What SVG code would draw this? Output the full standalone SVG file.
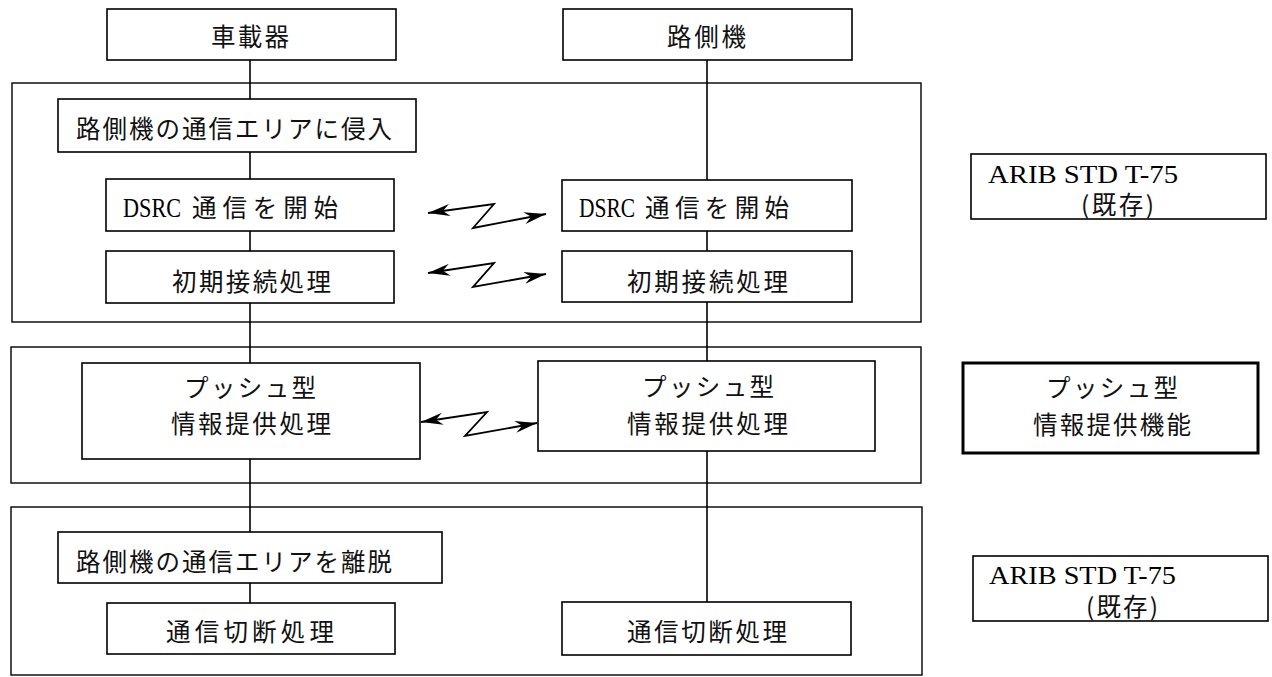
<svg xmlns="http://www.w3.org/2000/svg" width="1272" height="677" viewBox="0 0 1272 677">
<style>
.box{fill:#fff;stroke:#000;stroke-width:1.6}
.outer{fill:none;stroke:#000;stroke-width:1.4}
.thick{fill:#fff;stroke:#000;stroke-width:3}
.jp{font-family:"Noto Sans CJK JP","Noto Sans",sans-serif;font-size:24.5px;fill:#111}
.en{font-family:"Liberation Serif","Noto Sans CJK JP",serif;font-size:26px;fill:#000}
.ds{font-size:28px}
.ln{stroke:#000;stroke-width:1.6;fill:none}
.zz{stroke:#000;stroke-width:1.8;fill:none;marker-start:url(#ah);marker-end:url(#ah)}
</style>
<defs>
<marker id="ah" markerUnits="userSpaceOnUse" markerWidth="30" markerHeight="20" viewBox="-24 -10 30 20" refX="0" refY="0" orient="auto-start-reverse">
<path d="M0,0 L-22,-6 L-15,0 L-22,6 Z" fill="#000"/>
</marker>
</defs>
<rect width="1272" height="677" fill="#fff"/>

<g id="group-outer">
<rect class="outer" x="12" y="83" width="909" height="239"/>
<rect class="outer" x="11" y="347" width="910" height="136"/>
<rect class="outer" x="11" y="507" width="911" height="168"/>
</g>

<g id="connectors">
<line class="ln" x1="250" y1="60" x2="250" y2="99"/>
<line class="ln" x1="250" y1="152" x2="250" y2="179"/>
<line class="ln" x1="250" y1="231" x2="250" y2="251"/>
<line class="ln" x1="250" y1="303" x2="250" y2="363"/>
<line class="ln" x1="250" y1="459" x2="250" y2="532"/>
<line class="ln" x1="250" y1="583" x2="250" y2="603"/>
<line class="ln" x1="707" y1="60" x2="707" y2="180"/>
<line class="ln" x1="707" y1="231" x2="707" y2="251"/>
<line class="ln" x1="707" y1="302" x2="707" y2="361"/>
<line class="ln" x1="707" y1="451" x2="707" y2="602"/>
<polyline class="zz" points="428,213 494,204 473,228 546,214"/>
<polyline class="zz" points="428,273 494,263 473,287 546,274"/>
<polyline class="zz" points="421,422 487,412 465,436 537,423"/>
</g>

<g id="n-vehicle">
<rect class="box" x="107" y="9" width="289" height="51"/>
<text class="jp" x="211" y="46" textLength="78" lengthAdjust="spacing">車載器</text>
</g>
<g id="n-roadside">
<rect class="box" x="563" y="9" width="289" height="51"/>
<text class="jp" x="667" y="46" textLength="79" lengthAdjust="spacing">路側機</text>
</g>
<g id="n-enter">
<rect class="box" x="58" y="99" width="358" height="53"/>
<text class="jp" x="76" y="138" textLength="316" lengthAdjust="spacing">路側機の通信エリアに侵入</text>
</g>
<g id="n-dsrc-l">
<rect class="box" x="106" y="179" width="288" height="52"/>
<text class="en ds" x="123" y="217" textLength="58" lengthAdjust="spacingAndGlyphs">DSRC</text>
<text class="jp" x="192" y="217" textLength="146" lengthAdjust="spacing">通信を開始</text>
</g>
<g id="n-dsrc-r">
<rect class="box" x="562" y="180" width="290" height="51"/>
<text class="en ds" x="579" y="217" textLength="56" lengthAdjust="spacingAndGlyphs">DSRC</text>
<text class="jp" x="645" y="217" textLength="144" lengthAdjust="spacing">通信を開始</text>
</g>
<g id="n-init-l">
<rect class="box" x="106" y="251" width="288" height="52"/>
<text class="jp" x="172" y="291" textLength="159" lengthAdjust="spacing">初期接続処理</text>
</g>
<g id="n-init-r">
<rect class="box" x="562" y="251" width="290" height="51"/>
<text class="jp" x="627" y="291" textLength="161" lengthAdjust="spacing">初期接続処理</text>
</g>
<g id="n-push-l">
<rect class="box" x="82" y="363" width="338" height="96"/>
<text class="jp" x="184" y="397" textLength="132" lengthAdjust="spacing">プッシュ型</text>
<text class="jp" x="171" y="433" textLength="160" lengthAdjust="spacing">情報提供処理</text>
</g>
<g id="n-push-r">
<rect class="box" x="538" y="361" width="337" height="90"/>
<text class="jp" x="642" y="396" textLength="132" lengthAdjust="spacing">プッシュ型</text>
<text class="jp" x="627" y="433" textLength="161" lengthAdjust="spacing">情報提供処理</text>
</g>
<g id="n-leave">
<rect class="box" x="58" y="532" width="384" height="51"/>
<text class="jp" x="76" y="571" textLength="316" lengthAdjust="spacing">路側機の通信エリアを離脱</text>
</g>
<g id="n-disc-l">
<rect class="box" x="107" y="603" width="288" height="51"/>
<text class="jp" x="166" y="641" textLength="168" lengthAdjust="spacing">通信切断処理</text>
</g>
<g id="n-disc-r">
<rect class="box" x="562" y="602" width="289" height="53"/>
<text class="jp" x="627" y="641" textLength="160" lengthAdjust="spacing">通信切断処理</text>
</g>

<g id="label-arib1">
<rect class="box" x="971" y="154" width="295" height="65"/>
<text class="en" x="988" y="183" textLength="190" lengthAdjust="spacingAndGlyphs">ARIB STD T-75</text>
<text class="jp" x="1081" y="214" textLength="73" lengthAdjust="spacing">(既存)</text>
</g>
<g id="label-push">
<rect class="thick" x="963" y="363" width="295" height="90"/>
<text class="jp" x="1046" y="397" textLength="132" lengthAdjust="spacing">プッシュ型</text>
<text class="jp" x="1033" y="434" textLength="158" lengthAdjust="spacing">情報提供機能</text>
</g>
<g id="label-arib2">
<rect class="box" x="973" y="556" width="295" height="65"/>
<text class="en" x="989" y="584" textLength="187" lengthAdjust="spacingAndGlyphs">ARIB STD T-75</text>
<text class="jp" x="1086" y="616" textLength="72" lengthAdjust="spacing">(既存)</text>
</g>
</svg>
